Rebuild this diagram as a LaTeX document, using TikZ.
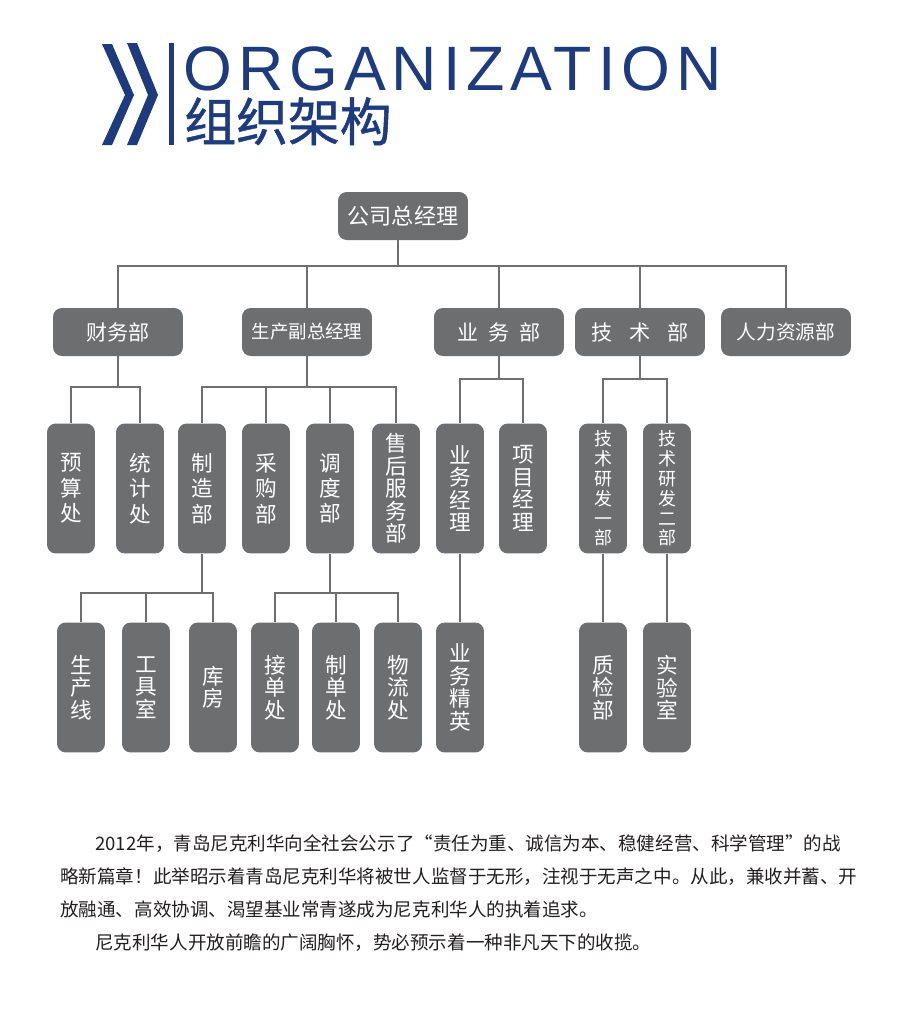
\documentclass[tikz,border=0pt]{standalone}
\usepackage{fontspec}
\setmainfont{Noto Sans CJK SC}
\newfontfamily\orgfont[LetterSpace=9.5]{Liberation Sans}
\newfontfamily\subfont[FakeBold=1]{Noto Sans CJK SC}
\usepackage{tikz}
\definecolor{orgblue}{RGB}{30,60,125}
\definecolor{orggray}{RGB}{109,110,112}
\definecolor{orgtext}{RGB}{35,31,32}
\tikzset{
  box/.style={fill=orggray, text=white, rounded corners=5pt, inner sep=0pt},
  widebox/.style={box, minimum width=2.6cm, minimum height=0.96cm, font=\fontsize{12pt}{14pt}\selectfont},
  tallbox/.style={box, minimum width=0.96cm, minimum height=2.6cm, align=center, font=\fontsize{12.3pt}{12.8pt}\selectfont},
  loose/.style={font=\fontsize{12.3pt}{14.5pt}\selectfont},
  techtext/.style={font=\fontsize{10.2pt}{11.3pt}\selectfont},
  link/.style={draw=orggray, line width=1.3pt},
  para/.style={anchor=base west, inner sep=0pt, text=orgtext, font=\fontsize{10.55pt}{12pt}\selectfont},
}

\begin{document}
\begin{tikzpicture}[x=0.02cm, y=-0.02cm]
\path[fill=white] (0,0) rectangle (900,1036);
\useasboundingbox (0,0) rectangle (900,1036);

% header
\fill[orgblue] (102,44) -- (112,44) -- (134,95) -- (112,145) -- (102,145) -- (125,95) -- cycle;
\fill[orgblue] (127,43) -- (137,43) -- (158,95) -- (137,145) -- (127,145) -- (148,95) -- cycle;
\fill[orgblue] (169,43) rectangle (174,145);
\node[anchor=base west, inner sep=0pt, text depth=0pt, text=orgblue, font=\orgfont\fontsize{35.7pt}{40pt}\selectfont] (title) at (183,90) {ORGANIZATION};
\node[anchor=base west, inner sep=0pt, text height=0.8em, text=orgblue, font=\subfont\fontsize{29.5pt}{32pt}\selectfont] (subtitle) at (184,141) {组织架构};

% level 1 and 2
\node[widebox, font=\fontsize{12.6pt}{14pt}\selectfont] (ceo) at (403,216) {公司总经理};
\node[widebox] (caiwu) at (118,332) {财务部};
\node[widebox, font=\fontsize{10.5pt}{12pt}\selectfont] (shengchan) at (307,332) {生产副总经理};
\node[widebox] (yewu) at (499,332) {业\hspace{0.45em}务\hspace{0.45em}部};
\node[widebox] (jishu) at (640,332) {技\hspace{0.8em}术\hspace{0.8em}部};
\node[widebox, font=\fontsize{11.2pt}{13pt}\selectfont] (renli) at (786,332) {人力资源部};

% level 3
\node[tallbox, loose] (yusuan) at (71,488.5) {预\\算\\处};
\node[tallbox, loose] (tongji) at (140,488.5) {统\\计\\处};
\node[tallbox, loose] (zhizao) at (202,488.5) {制\\造\\部};
\node[tallbox, loose] (caigou) at (266,488.5) {采\\购\\部};
\node[tallbox, loose] (diaodu) at (330,488.5) {调\\度\\部};
\node[tallbox] (shouhou) at (396,488.5) {售\\后\\服\\务\\部};
\node[tallbox] (yewujl) at (460,488.5) {业\\务\\经\\理};
\node[tallbox] (xiangmu) at (523,488.5) {项\\目\\经\\理};
\node[tallbox, techtext] (yanfa1) at (603,488.5) {技\\术\\研\\发\\一\\部};
\node[tallbox, techtext] (yanfa2) at (667,488.5) {技\\术\\研\\发\\二\\部};

% level 4
\node[tallbox] (scx) at (81,687.5) {生\\产\\线};
\node[tallbox] (gongju) at (146,687.5) {工\\具\\室};
\node[tallbox] (kufang) at (213,687.5) {库\\房};
\node[tallbox] (jiedan) at (275,687.5) {接\\单\\处};
\node[tallbox] (zhidan) at (336,687.5) {制\\单\\处};
\node[tallbox] (wuliu) at (398,687.5) {物\\流\\处};
\node[tallbox] (jingying) at (460,687.5) {业\\务\\精\\英};
\node[tallbox] (zhijian) at (603,687.5) {质\\检\\部};
\node[tallbox] (shiyan) at (667,687.5) {实\\验\\室};

% connectors
\coordinate (b0) at (398,266);
\draw[link] (ceo.south -| b0) -- (b0) -| (caiwu.north) (b0) -| (shengchan.north)
  (b0) -| (yewu.north) (b0) -| (jishu.north) (b0) -| (renli.north);
\draw[link] (caiwu.south) -- ++(0,31) coordinate (b1) -| (yusuan.north) (b1) -| (tongji.north);
\draw[link] (shengchan.south) -- ++(0,31) coordinate (b2) -| (zhizao.north) (b2) -| (caigou.north)
  (b2) -| (diaodu.north) (b2) -| (shouhou.north);
\draw[link] (yewu.south) -- ++(0,23) coordinate (b3) -| (yewujl.north) (b3) -| (xiangmu.north);
\draw[link] (jishu.south) -- ++(0,23) coordinate (b4) -| (yanfa1.north) (b4) -| (yanfa2.north);
\draw[link] (zhizao.south) -- ++(0,39.5) coordinate (b5) -| (scx.north) (b5) -| (gongju.north) (b5) -| (kufang.north);
\draw[link] (diaodu.south) -- ++(0,39.5) coordinate (b6) -| (jiedan.north) (b6) -| (zhidan.north) (b6) -| (wuliu.north);
\draw[link] (yewujl.south) -- (jingying.north);
\draw[link] (yanfa1.south) -- (zhijian.north);
\draw[link] (yanfa2.south) -- (shiyan.north);

% text
\node[para] (p1) at (95,850) {2012年，青岛尼克利华向全社会公示了“责任为重、诚信为本、稳健经营、科学管理”的战};
\node[para] (p2) at (60,883) {略新篇章！此举昭示着青岛尼克利华将被世人监督于无形，注视于无声之中。从此，兼收并蓄、开};
\node[para] (p3) at (60,916) {放融通、高效协调、渴望基业常青遂成为尼克利华人的执着追求。};
\node[para] (p4) at (95,949) {尼克利华人开放前瞻的广阔胸怀，势必预示着一种非凡天下的收揽。};
\end{tikzpicture}
\end{document}
